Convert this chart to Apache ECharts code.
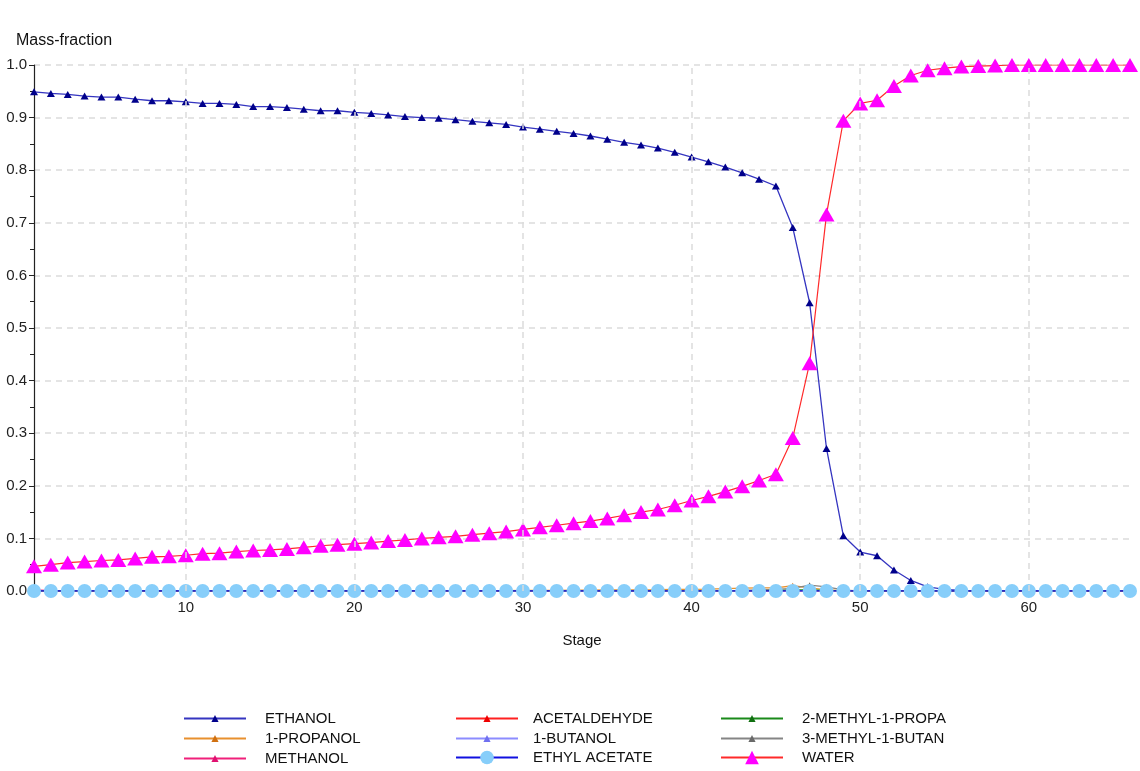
<!DOCTYPE html>
<html>
<head>
<meta charset="utf-8">
<script src="https://cdn.jsdelivr.net/npm/echarts@6/dist/echarts.min.js"></script>
<style>
html,body{margin:0;padding:0;background:#fff;}
#chart{width:1140px;height:771px;}
</style>
</head>
<body>
<div id="chart"></div>
<script>
const stages = Array.from({length: 66}, (_, i) => i + 1);
const xTicks = [10, 20, 30, 40, 50, 60];

const ethanol = [0.949,0.946,0.944,0.941,0.939,0.939,0.935,0.932,0.932,0.930,
  0.927,0.927,0.925,0.921,0.921,0.919,0.916,0.913,0.913,0.910,
  0.908,0.905,0.902,0.900,0.899,0.896,0.893,0.890,0.887,0.882,
  0.878,0.874,0.870,0.865,0.859,0.853,0.848,0.842,0.834,0.825,
  0.816,0.806,0.795,0.783,0.770,0.691,0.548,0.271,0.105,0.074,
  0.067,0.040,0.020,0.008,0.003,0.001,0,0,0,0,
  0,0,0,0,0,0];
const water = [0.047,0.050,0.054,0.056,0.058,0.059,0.062,0.065,0.066,0.068,
  0.071,0.072,0.075,0.077,0.078,0.080,0.083,0.086,0.088,0.090,
  0.092,0.095,0.097,0.100,0.102,0.104,0.107,0.110,0.113,0.117,
  0.121,0.125,0.129,0.133,0.138,0.144,0.150,0.155,0.163,0.172,
  0.180,0.189,0.199,0.210,0.222,0.291,0.433,0.716,0.894,0.927,
  0.933,0.960,0.980,0.990,0.994,0.997,0.998,0.999,1.0,1.0,
  1.0,1.0,1.0,1.0,1.0,1.0];
const propanol1 = [0,0,0,0,0,0,0,0,0,0,
  0,0,0,0,0,0,0,0,0,0,
  0,0,0,0,0,0,0.0003,0.0005,0.0008,0.001,
  0.001,0.0012,0.0015,0.0018,0.002,0.002,0.0022,0.0025,0.003,0.003,
  0.0035,0.0045,0.0055,0.006,0.006,0.010,0.006,0.002,0.0005,0,
  0,0,0,0,0,0,0,0,0,0,
  0,0,0,0,0,0];
const methylButanol3 = [0,0,0,0,0,0,0,0,0,0,
  0,0,0,0,0,0,0,0,0,0,
  0,0,0,0,0,0,0,0,0,0,
  0,0,0,0,0,0,0,0,0,0,
  0,0.0003,0.001,0.002,0.003,0.005,0.011,0.008,0.002,0,
  0,0,0,0,0,0,0,0,0,0,
  0,0,0,0,0,0];
const methylPropanol2 = [0,0,0,0,0,0,0,0,0,0,
  0,0,0,0,0,0,0,0,0,0,
  0,0,0,0,0,0,0,0,0,0,
  0,0,0,0,0,0,0,0,0,0,
  0,0,0,0.0005,0.001,0.002,0.002,0.001,0,0,
  0,0,0,0,0,0,0,0,0,0,
  0,0,0,0,0,0];
const butanol1 = [0,0,0,0,0,0,0,0,0,0,
  0,0,0,0,0,0,0,0,0,0,
  0,0,0,0,0,0,0,0,0,0,
  0,0,0,0,0,0,0,0,0,0,
  0,0,0,0,0,0.0005,0.001,0.0005,0,0,
  0,0,0,0,0,0,0,0,0,0,
  0,0,0,0,0,0];
const methanol = [0.002,0.0008,0.0003,0,0,0,0,0,0,0,
  0,0,0,0,0,0,0,0,0,0,
  0,0,0,0,0,0,0,0,0,0,
  0,0,0,0,0,0,0,0,0,0,
  0,0,0,0,0,0,0,0,0,0,
  0,0,0,0,0,0,0,0,0,0,
  0,0,0,0,0,0];
const acetaldehyde = [0.001,0.0003,0,0,0,0,0,0,0,0,
  0,0,0,0,0,0,0,0,0,0,
  0,0,0,0,0,0,0,0,0,0,
  0,0,0,0,0,0,0,0,0,0,
  0,0,0,0,0,0,0,0,0,0,
  0,0,0,0,0,0,0,0,0,0,
  0,0,0,0,0,0];
const ethylAcetate = stages.map(() => 0);

const names = ['ETHANOL','ACETALDEHYDE','2-METHYL-1-PROPA','1-PROPANOL','1-BUTANOL','3-METHYL-1-BUTAN','METHANOL','ETHYL ACETATE','WATER'];

function pairs(arr){ return stages.map((s,i)=>[s, arr[i]]); }

const FONT = 'Liberation Sans, Arial, sans-serif';
const styles = {
  'ETHANOL':          {line:'#3535c0', mark:'#00008b', symbol:'triangle', size:[8,7], w:1.3, big:false},
  'ACETALDEHYDE':     {line:'#ff2020', mark:'#ee0000', symbol:'triangle', size:[6,6], w:1.2, big:false},
  '2-METHYL-1-PROPA': {line:'#1a8a1a', mark:'#107010', symbol:'triangle', size:[6,6], w:1.2, big:false},
  '1-PROPANOL':       {line:'#e8902e', mark:'#d07010', symbol:'triangle', size:[6,6], w:1.3, big:false},
  '1-BUTANOL':        {line:'#8c8cff', mark:'#7070f0', symbol:'triangle', size:[6,6], w:1.2, big:false},
  '3-METHYL-1-BUTAN': {line:'#858585', mark:'#6a6a6a', symbol:'triangle', size:[6,6], w:1.2, big:false},
  'METHANOL':         {line:'#f0207a', mark:'#e01070', symbol:'triangle', size:[6,6], w:1.2, big:false},
  'ETHYL ACETATE':    {line:'#1010e0', mark:'#87cefa', symbol:'circle', size:14, w:1.5, big:true},
  'WATER':            {line:'#ff2a2a', mark:'#ff00ff', symbol:'triangle', size:[16,14], w:1.2, big:true}
};
const dataMap = {
  'ETHANOL': ethanol, 'ACETALDEHYDE': acetaldehyde, '2-METHYL-1-PROPA': methylPropanol2,
  '1-PROPANOL': propanol1, '1-BUTANOL': butanol1, '3-METHYL-1-BUTAN': methylButanol3,
  'METHANOL': methanol, 'ETHYL ACETATE': ethylAcetate, 'WATER': water
};
const drawOrder = ['ETHANOL','1-PROPANOL','METHANOL','ACETALDEHYDE','1-BUTANOL','2-METHYL-1-PROPA','3-METHYL-1-BUTAN','ETHYL ACETATE','WATER'];

const series = drawOrder.map(n => ({
  name: n, type: 'line', data: pairs(dataMap[n]),
  symbol: styles[n].symbol, symbolSize: styles[n].size, showAllSymbol: true,
  lineStyle: {color: styles[n].line, width: styles[n].w},
  itemStyle: {color: styles[n].mark, borderWidth: 0},
  emphasis: {disabled: true}, animation: false, z: 3
}));
series.unshift({
  name: 'grid-v', type: 'line', data: [], z: 1, silent: true, animation: false,
  markLine: {silent: true, symbol: 'none', animation: false, label: {show: false},
    lineStyle: {color: '#dcdcdc', type: [6, 5], width: 1.5},
    data: xTicks.map(v => ({xAxis: v}))}
});

const colX = [183, 455, 720];
const colPad = [14, 10, 14];
const rowY = [718, 738, 758];
const legends = names.map((n, i) => {
  const c = i % 3, r = Math.floor(i / 3);
  const big = styles[n].big;
  const h = big ? 17 : 9;
  return {
    data: [n], left: colX[c], top: rowY[r] - (big ? 8 : 7), orient: 'horizontal',
    itemWidth: 62, itemHeight: h, selectedMode: false, padding: 0,
    textStyle: {fontFamily: FONT, fontSize: 15, color: '#111', padding: [3, 0, 0, colPad[c]]}
  };
});

const chart = echarts.init(document.getElementById('chart'), null, {renderer: 'canvas'});
chart.setOption({
  backgroundColor: '#ffffff',
  animation: false,
  title: {text: 'Mass-fraction', left: 11, top: 28,
    textStyle: {fontFamily: FONT, fontSize: 16, fontWeight: 'normal', color: '#111'}},
  legend: legends,
  grid: {left: 34, right: 10, top: 65, bottom: 180, containLabel: false},
  xAxis: {
    type: 'value', min: 1, max: 66,
    name: 'Stage', nameLocation: 'middle', nameGap: 42,
    nameTextStyle: {fontFamily: FONT, fontSize: 15, color: '#111'},
    axisLine: {show: false}, axisTick: {show: false}, splitLine: {show: false},
    axisLabel: {customValues: xTicks, margin: 9, fontFamily: FONT, fontSize: 15, color: '#222'}
  },
  yAxis: {
    type: 'value', min: 0, max: 1, interval: 0.1,
    axisLine: {show: true, lineStyle: {color: '#222', width: 1.2}},
    axisTick: {show: true, length: 5, lineStyle: {color: '#222'}},
    minorTick: {show: true, splitNumber: 2, length: 4, lineStyle: {color: '#222'}},
    splitLine: {show: true, lineStyle: {color: '#dcdcdc', type: [6, 5], width: 1.5}},
    axisLabel: {margin: 7, padding: [3, 0, 0, 0], formatter: v => v.toFixed(1), fontFamily: FONT, fontSize: 15, color: '#222'}
  },
  series: series
});
</script>
</body>
</html>
